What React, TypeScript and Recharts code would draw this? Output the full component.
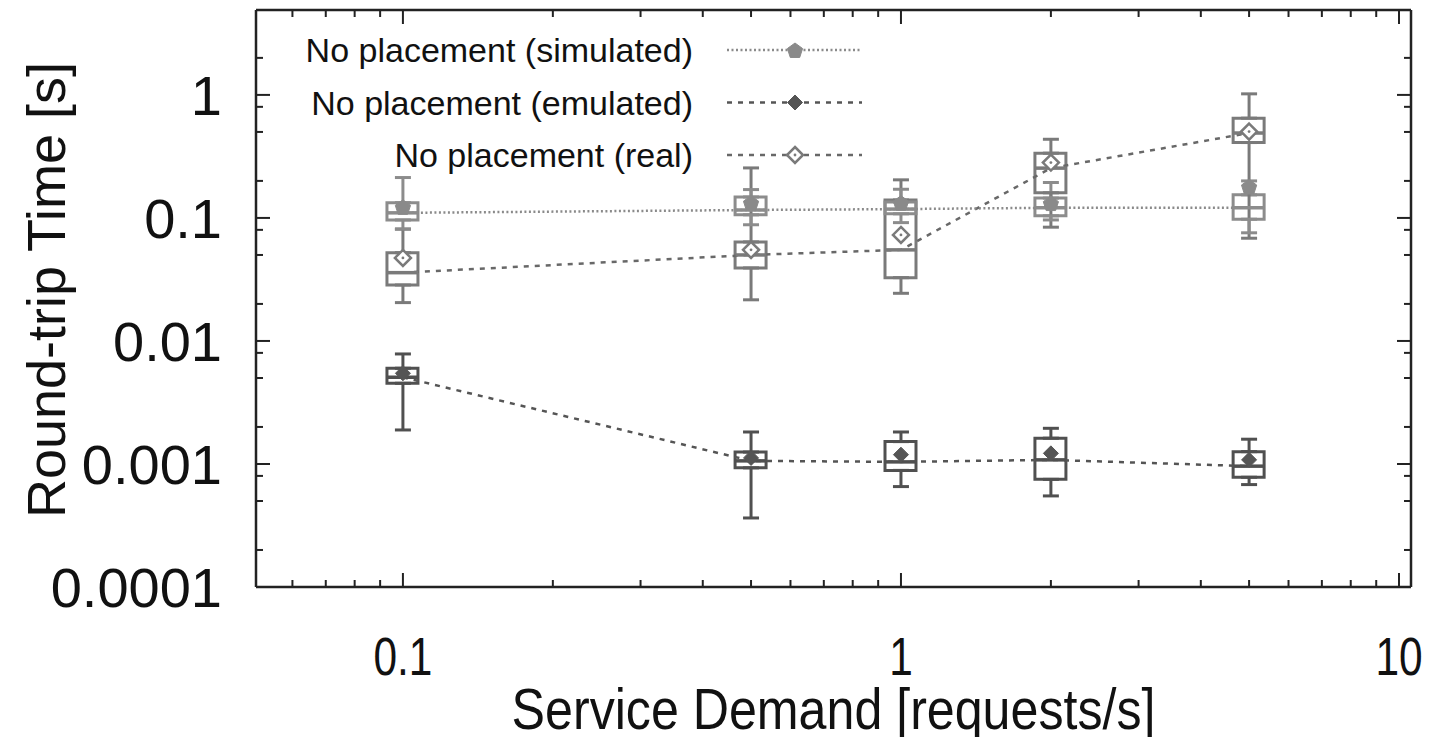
import { Bar, ComposedChart, ErrorBar, Legend, Line, XAxis, YAxis } from "recharts";

const demand = [0.1, 0.5, 1, 2, 5];

// No placement (simulated)
const simLow = [0.0814, 0.088, 0.0916, 0.0963, 0.0757];
const simQ1 = [0.0963, 0.106, 0.108, 0.104, 0.0976];
const simMedian = [0.11, 0.116, 0.118, 0.121, 0.121];
const simQ3 = [0.133, 0.148, 0.135, 0.145, 0.154];
const simHigh = [0.213, 0.17, 0.171, 0.194, 0.2];
const simMean = [0.123, 0.133, 0.133, 0.132, 0.18];

// No placement (emulated)
const emuLow = [0.00189, 0.000364, 0.000655, 0.00055, 0.00068];
const emuQ1 = [0.00453, 0.00093, 0.000887, 0.00075, 0.00078];
const emuMedian = [0.00507, 0.00106, 0.00104, 0.00108, 0.00096];
const emuQ3 = [0.006, 0.00125, 0.00152, 0.00162, 0.00126];
const emuHigh = [0.00784, 0.00182, 0.00182, 0.00195, 0.00159];
const emuMean = [0.00546, 0.00112, 0.00119, 0.00122, 0.00108];

// No placement (real)
const realLow = [0.0205, 0.0216, 0.0244, 0.0841, 0.0684];
const realQ1 = [0.0285, 0.0392, 0.0327, 0.16, 0.41];
const realMedian = [0.0359, 0.05, 0.055, 0.254, 0.49];
const realQ3 = [0.0522, 0.0638, 0.14, 0.336, 0.647];
const realHigh = [0.081, 0.255, 0.204, 0.436, 1.02];
const realMean = [0.0473, 0.055, 0.0728, 0.282, 0.503];

const legendLabels = ["No placement (simulated)", "No placement (emulated)", "No placement (real)"];

const xMajorTicks = [0.1, 1, 10];
const xTickLabels = ["0.1", "1", "10"];
const yMajorTicks = [0.0001, 0.001, 0.01, 0.1, 1];
const yTickLabels = ["0.0001", "0.001", "0.01", "0.1", "1"];
const xMinorSteps = [2, 3, 4, 5, 6, 7, 8, 9];
const yMinorSteps = [2, 5, 8];

const xDomain = [0.0507, 10.57];
const yDomain = [0.0001, 4.9];

const xTicks = [...xMajorTicks, ...[0.01, 0.1, 1].flatMap((d) => xMinorSteps.map((m) => m * d))]
  .filter((v) => v >= xDomain[0] && v <= xDomain[1]);
const yTicks = [...yMajorTicks, ...yMajorTicks.flatMap((d) => yMinorSteps.map((m) => m * d))]
  .filter((v) => v >= yDomain[0] && v <= yDomain[1]);

const FONT = "'Liberation Sans', Arial, Helvetica, sans-serif";
const INK = "#111";
const FRAME = "#222";
const BOX_W = 31;

const rows = demand.map((x, i) => ({
  x,
  simBox: [simQ1[i], simQ3[i]],
  simQ1: simQ1[i],
  simQ3: simQ3[i],
  simMedian: simMedian[i],
  simMean: simMean[i],
  simUp: [0, simHigh[i] - simQ3[i]],
  simDown: [simQ1[i] - simLow[i], 0],
  emuBox: [emuQ1[i], emuQ3[i]],
  emuQ1: emuQ1[i],
  emuQ3: emuQ3[i],
  emuMedian: emuMedian[i],
  emuMean: emuMean[i],
  emuUp: [0, emuHigh[i] - emuQ3[i]],
  emuDown: [emuQ1[i] - emuLow[i], 0],
  realBox: [realQ1[i], realQ3[i]],
  realQ1: realQ1[i],
  realQ3: realQ3[i],
  realMedian: realMedian[i],
  realMean: realMean[i],
  realUp: [0, realHigh[i] - realQ3[i]],
  realDown: [realQ1[i] - realLow[i], 0],
}));

const series = [
  { key: "real", name: legendLabels[2], box: "#7a7a7a", line: "#686868", dash: "5 6", lineWidth: 2.5, marker: "open" },
  { key: "sim", name: legendLabels[0], box: "#8c8c8c", line: "#8a8a8a", dash: "2 2.5", lineWidth: 2.5, marker: "pentagon" },
  { key: "emu", name: legendLabels[1], box: "#505050", line: "#555555", dash: "5 6", lineWidth: 2.5, marker: "diamond" },
];
const legendOrder = ["sim", "emu", "real"];

function Marker({ kind, cx, cy, color }: { kind: string; cx: number; cy: number; color: string }) {
  if (kind === "pentagon") {
    const r = 8;
    const pts = [0, 1, 2, 3, 4]
      .map((k) => {
        const a = (-90 + k * 72) * (Math.PI / 180);
        return `${cx + r * Math.cos(a)},${cy + 1 + r * Math.sin(a)}`;
      })
      .join(" ");
    return <polygon points={pts} fill={color} stroke={color} strokeWidth={1} />;
  }
  if (kind === "diamond") {
    const r = 7.5;
    return (
      <polygon
        points={`${cx},${cy - r} ${cx + r},${cy} ${cx},${cy + r} ${cx - r},${cy}`}
        fill={color}
        stroke={color}
        strokeWidth={1}
      />
    );
  }
  const r = 8;
  return (
    <g>
      <polygon
        points={`${cx},${cy - r} ${cx + r},${cy} ${cx},${cy + r} ${cx - r},${cy}`}
        fill="#fff"
        stroke={color}
        strokeWidth={2.5}
      />
      <circle cx={cx} cy={cy} r={1.4} fill={color} />
    </g>
  );
}

function BottomTick(props: any) {
  const { x, y, payload } = props;
  const i = xMajorTicks.indexOf(payload.value);
  return (
    <g>
      <line x1={x} x2={x} y1={y} y2={y - (i >= 0 ? 14 : 7)} stroke={FRAME} strokeWidth={2} />
      {i >= 0 && (
        <text
          transform={`translate(${x},${y + 88}) scale(0.8,1)`}
          textAnchor="middle"
          fontSize={53}
          fontFamily={FONT}
          fill={INK}
        >
          {xTickLabels[i]}
        </text>
      )}
    </g>
  );
}

function TopTick(props: any) {
  const { x, y, payload } = props;
  const major = xMajorTicks.indexOf(payload.value) >= 0;
  return <line x1={x} x2={x} y1={y} y2={y + (major ? 14 : 7)} stroke={FRAME} strokeWidth={2} />;
}

function LeftTick(props: any) {
  const { x, y, payload } = props;
  const i = yMajorTicks.indexOf(payload.value);
  return (
    <g>
      <line x1={x} x2={x + (i >= 0 ? 14 : 7)} y1={y} y2={y} stroke={FRAME} strokeWidth={2} />
      {i >= 0 && (
        <text x={x - 34} y={y + 20} textAnchor="end" fontSize={56} fontFamily={FONT} fill={INK}>
          {yTickLabels[i]}
        </text>
      )}
    </g>
  );
}

function RightTick(props: any) {
  const { x, y, payload } = props;
  const major = yMajorTicks.indexOf(payload.value) >= 0;
  return <line x1={x} x2={x - (major ? 14 : 7)} y1={y} y2={y} stroke={FRAME} strokeWidth={2} />;
}

function XTitle(props: any) {
  const vb = props.viewBox || { x: 256, y: 587, width: 1155, height: 158 };
  return (
    <text
      transform={`translate(${vb.x + vb.width / 2},${vb.y + 142}) scale(0.88,1)`}
      textAnchor="middle"
      fontSize={57}
      fontFamily={FONT}
      fill={INK}
    >
      Service Demand [requests/s]
    </text>
  );
}

function YTitle() {
  return (
    <text transform="translate(65,290) rotate(-90)" textAnchor="middle" fontSize={54} fontFamily={FONT} fill={INK}>
      Round-trip Time [s]
    </text>
  );
}

function LegendBox() {
  return (
    <svg width={900} height={190} style={{ display: "block" }}>
      {legendOrder.map((k, i) => {
        const s = series.find((e) => e.key === k)!;
        const cy = 50 + i * 52.5;
        return (
          <g key={k}>
            <text x={693} y={cy + 12} textAnchor="end" fontSize={34} fontFamily={FONT} fill={INK}>
              {s.name}
            </text>
            <line x1={727} x2={862} y1={cy} y2={cy} stroke={s.line} strokeWidth={s.lineWidth} strokeDasharray={s.dash} />
            <Marker kind={s.marker} cx={795} cy={cy} color={s.key === "real" ? s.box : s.line} />
          </g>
        );
      })}
    </svg>
  );
}

const frameLine = { stroke: FRAME, strokeWidth: 2.5 };

export default function App() {
  return (
    <div style={{ margin: -8 }}>
      <ComposedChart width={1432} height={745} data={rows} margin={{ top: 9, right: 20, bottom: 0, left: 0 }}>
        {series.map((s) => (
          <XAxis
            key={`bx-${s.key}`}
            xAxisId={`box-${s.key}`}
            type="number"
            dataKey="x"
            scale="log"
            domain={xDomain}
            allowDataOverflow
            height={0}
            hide
          />
        ))}
        <XAxis
          xAxisId="x"
          type="number"
          dataKey="x"
          scale="log"
          domain={xDomain}
          allowDataOverflow
          ticks={xTicks}
          interval={0}
          tickLine={false}
          tickSize={0}
          tickMargin={0}
          tick={(p: any) => <BottomTick {...p} />}
          axisLine={frameLine}
          height={158}
          label={{ content: (p: any) => <XTitle {...p} /> }}
        />
        <XAxis
          xAxisId="xTop"
          orientation="top"
          type="number"
          dataKey="x"
          scale="log"
          domain={xDomain}
          allowDataOverflow
          ticks={xTicks}
          interval={0}
          tickLine={false}
          tickSize={0}
          tickMargin={0}
          tick={(p: any) => <TopTick {...p} />}
          axisLine={frameLine}
          height={1}
        />
        <YAxis
          yAxisId="y"
          type="number"
          scale="log"
          domain={yDomain}
          allowDataOverflow
          ticks={yTicks}
          interval={0}
          tickLine={false}
          tickSize={0}
          tickMargin={0}
          tick={(p: any) => <LeftTick {...p} />}
          axisLine={frameLine}
          width={256}
          label={{ content: () => <YTitle /> }}
        />
        <YAxis
          yAxisId="yRight"
          orientation="right"
          type="number"
          scale="log"
          domain={yDomain}
          allowDataOverflow
          ticks={yTicks}
          interval={0}
          tickLine={false}
          tickSize={0}
          tickMargin={0}
          tick={(p: any) => <RightTick {...p} />}
          axisLine={frameLine}
          width={1}
        />

        {series.map((s) => (
          <Bar
            key={`box-${s.key}`}
            xAxisId={`box-${s.key}`}
            yAxisId="y"
            dataKey={`${s.key}Box`}
            barSize={BOX_W}
            fill="none"
            stroke={s.box}
            strokeWidth={3}
            isAnimationActive={false}
          />
        ))}

        {series.map((s) => (
          <Line
            key={`up-${s.key}`}
            xAxisId="x"
            yAxisId="y"
            dataKey={`${s.key}Q3`}
            stroke="none"
            dot={false}
            activeDot={false}
            isAnimationActive={false}
          >
            <ErrorBar dataKey={`${s.key}Up`} direction="y" width={8} stroke={s.box} strokeWidth={3} isAnimationActive={false} />
          </Line>
        ))}
        {series.map((s) => (
          <Line
            key={`down-${s.key}`}
            xAxisId="x"
            yAxisId="y"
            dataKey={`${s.key}Q1`}
            stroke="none"
            dot={false}
            activeDot={false}
            isAnimationActive={false}
          >
            <ErrorBar dataKey={`${s.key}Down`} direction="y" width={8} stroke={s.box} strokeWidth={3} isAnimationActive={false} />
          </Line>
        ))}

        {series.map((s) => (
          <Line
            key={`med-${s.key}`}
            xAxisId="x"
            yAxisId="y"
            type="linear"
            dataKey={`${s.key}Median`}
            stroke={s.line}
            strokeWidth={s.lineWidth}
            strokeDasharray={s.dash}
            activeDot={false}
            isAnimationActive={false}
            dot={(p: any) => (
              <line
                key={`md-${s.key}-${p.index}`}
                x1={p.cx - BOX_W / 2}
                x2={p.cx + BOX_W / 2}
                y1={p.cy}
                y2={p.cy}
                stroke={s.box}
                strokeWidth={3.5}
              />
            )}
          />
        ))}

        {series.map((s) => (
          <Line
            key={`mean-${s.key}`}
            xAxisId="x"
            yAxisId="y"
            dataKey={`${s.key}Mean`}
            stroke="none"
            activeDot={false}
            isAnimationActive={false}
            dot={(p: any) => (
              <Marker
                key={`mk-${s.key}-${p.index}`}
                kind={s.marker}
                cx={p.cx}
                cy={p.cy}
                color={s.key === "real" ? s.box : s.line}
              />
            )}
          />
        ))}

        <Legend
          layout="vertical"
          align="center"
          verticalAlign="middle"
          width={900}
          height={190}
          wrapperStyle={{ left: 0, top: 0, width: 900, height: 190 }}
          content={() => <LegendBox />}
        />
      </ComposedChart>
    </div>
  );
}
